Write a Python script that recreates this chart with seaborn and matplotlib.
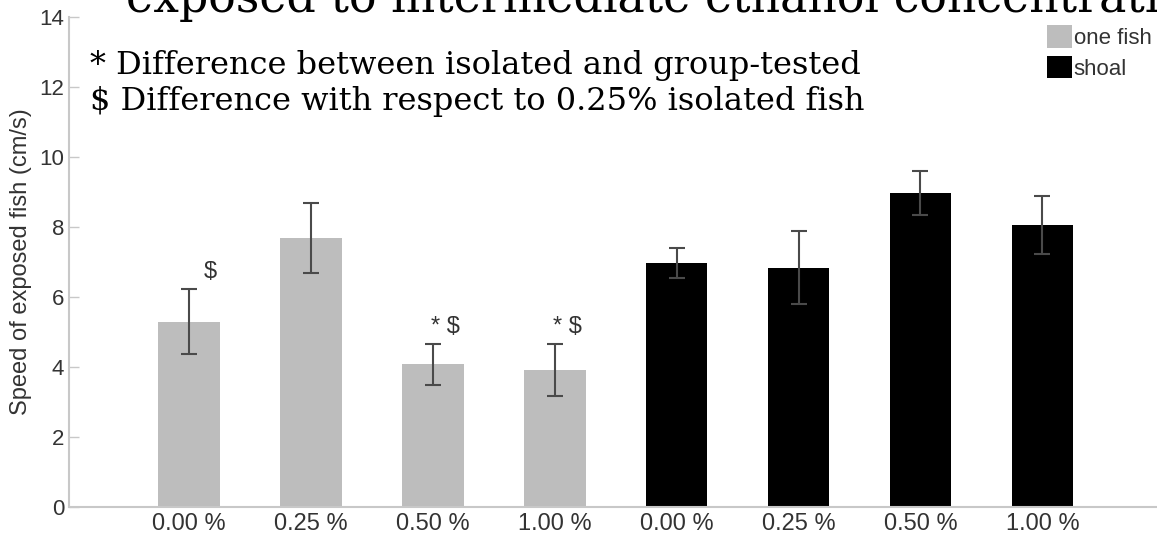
import numpy as np
import pandas as pd
import matplotlib
matplotlib.use("Agg")
import matplotlib.pyplot as plt
import seaborn as sns

# data
concentrations = ["0.00 %", "0.25 %", "0.50 %", "1.00 %"]
groups = ["one fish", "shoal"]
one_fish_mean = [5.30, 7.69, 4.08, 3.92]
one_fish_err = [0.93, 1.00, 0.58, 0.75]
shoal_mean = [6.97, 6.84, 8.98, 8.06]
shoal_err = [0.42, 1.05, 0.63, 0.83]
one_fish_marks = ["$", "", "* $", "* $"]
shoal_marks = ["", "", "", ""]

title_text = "exposed to intermediate ethanol concentrations"
note_lines = ["* Difference between isolated and group-tested",
              "$ Difference with respect to 0.25% isolated fish"]
ylabel = "Speed of exposed fish (cm/s)"

# long table for seaborn
rows = []
for g, means, errs, marks in [("one fish", one_fish_mean, one_fish_err, one_fish_marks),
                              ("shoal", shoal_mean, shoal_err, shoal_marks)]:
    for c, m, e, mk in zip(concentrations, means, errs, marks):
        rows.append({"slot": f"{g} {c}", "conc": c, "group": g,
                     "speed": m, "err": e, "mark": mk})
df = pd.DataFrame(rows)
slots = list(df["slot"])

sns.set_style("white")
plt.rcParams["font.family"] = ["Liberation Sans", "DejaVu Sans"]

W, H = 1157, 535
fig = plt.figure(figsize=(W / 100, H / 100), dpi=100)
ax = fig.add_axes([69 / W, 1 - 507 / H, 1 - 69 / W, (507 - 17) / H])

sns.barplot(data=df, x="slot", y="speed", hue="group", order=slots,
            palette={"one fish": "#bdbdbd", "shoal": "#000000"},
            dodge=False, width=0.505, saturation=1, linewidth=0, ax=ax)

x = np.arange(len(df))
ax.errorbar(x, df["speed"], yerr=df["err"], fmt="none", ecolor="#4a4a4a",
            elinewidth=1.5, capsize=5.8, capthick=1.5, zorder=3)

# significance marks above the error bars
for xi, (top, mk) in enumerate(zip(df["speed"] + df["err"], df["mark"])):
    if mk:
        ax.text(xi + 0.225, top + 0.48, mk, ha="right", va="center",
                fontsize=17, color="#333333")

ax.set_ylim(0, 14)
ax.set_xlim(-0.984, 7.94)
ax.set_yticks(range(0, 15, 2))
ax.set_xticks(x)
ax.set_xticklabels(df["conc"])
ax.set_xlabel("")
ax.set_ylabel(ylabel, fontsize=17, color="#333333", labelpad=5)
ax.tick_params(axis="y", direction="in", length=7, width=1, color="#c8c8c8",
               labelsize=16, labelcolor="#333333", pad=3.5, left=True)
ax.tick_params(axis="x", length=0, labelsize=17, labelcolor="#333333", pad=4)
for side in ["top", "right"]:
    ax.spines[side].set_visible(False)
for side in ["left", "bottom"]:
    ax.spines[side].set_color("#c8c8c8")
    ax.spines[side].set_linewidth(1.5)

handles, labels = ax.get_legend_handles_labels()
ax.legend(handles, labels, loc="upper left",
          bbox_to_anchor=(1036 / W, 1 - 14 / H), bbox_transform=fig.transFigure,
          frameon=False, borderpad=0, handlelength=1.1, handleheight=1.2,
          handletextpad=0.1, labelspacing=0.3, fontsize=16,
          labelcolor="#333333")

# serif overlay text (title cut at the top edge, notes)
fig.text(126 / W, 1 - 12 / H, title_text, ha="left", va="baseline",
         fontsize=33, family="DejaVu Serif", color="#000000")
fig.text(90 / W, 1 - 74 / H, note_lines[0], ha="left", va="baseline",
         fontsize=23, family="DejaVu Serif", color="#000000")
fig.text(90 / W, 1 - 110 / H, note_lines[1], ha="left", va="baseline",
         fontsize=23, family="DejaVu Serif", color="#000000")

fig.savefig("out.png", dpi=100)
